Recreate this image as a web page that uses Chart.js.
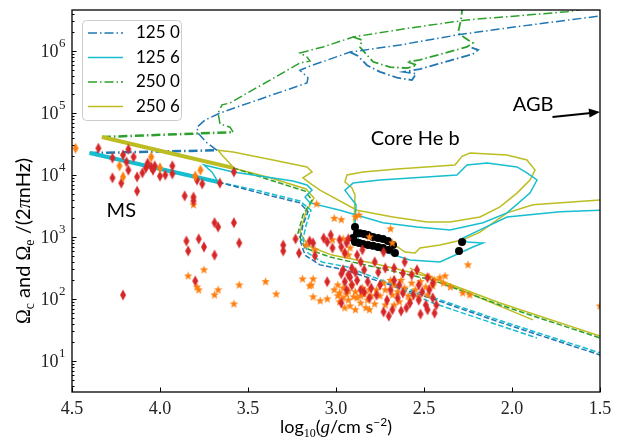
<!DOCTYPE html>
<html>
<head>
<meta charset="utf-8">
<script src="https://cdn.jsdelivr.net/npm/chart.js"></script>
<style>
  body { margin: 0; background: #fff; }
  canvas { display: block; }
</style>
</head>
<body>
<canvas id="myChart" width="617" height="441"></canvas>
<script>
// pares [log10 g, Omega (2 pi nHz)]
const ms125_0 = [[4.40, 22600], [3.68, 25000]];
const nucleo125_0 = [[3.676, 25000], [3.733, 33000], [3.784, 47500], [3.79, 59000], [3.744, 77000], [3.659, 100000], [3.165, 305000], [3.159, 370000], [3.205, 490000], [3.148, 570000], [2.92, 960000], [2.636, 1250000], [2.313, 1810000], [2.028, 2350000], [1.5, 3670000]];
const lazo125_0 = [[2.92, 960000], [2.875, 830000], [2.824, 590000], [2.75, 460000], [2.653, 370000], [2.568, 340000], [2.545, 430000], [2.614, 460000], [2.523, 510000], [2.222, 895000], [2.193, 1040000], [2.239, 1160000]];

const ms250_0 = [[4.33, 41000], [3.585, 49000]];
const nucleo250_0 = [[3.585, 49000], [3.602, 59000], [3.659, 66500], [3.67, 100000], [3.648, 135000], [3.602, 145000], [3.205, 640000], [3.148, 690000], [3.165, 800000], [3.205, 930000], [3.074, 1160000], [2.903, 1680000], [2.58, 2350000], [2.256, 3160000], [1.688, 4300000], [1.557, 4900000]];
const lazo250_0 = [[2.903, 1680000], [2.852, 1500000], [2.864, 1160000], [2.79, 670000], [2.693, 550000], [2.597, 530000], [2.54, 590000], [2.597, 670000], [2.523, 720000], [2.256, 1160000], [2.222, 1350000], [2.25, 1500000], [2.307, 1950000], [2.29, 3160000], [2.278, 6200000]];

const ms125_6 = [[4.40, 22600], [4.06, 13700], [3.67, 7700]];
const nucleo125_6 = [[3.67, 7700], [3.705, 11200], [3.75, 14500], [3.585, 11200], [3.244, 8000], [3.165, 6900], [3.136, 5700], [3.176, 4400], [3.148, 3550], [2.977, 2700], [2.733, 1700], [2.54, 1450], [2.352, 1300], [2.165, 1700], [2.028, 2450], [1.898, 5100], [1.858, 8300], [1.915, 10800], [1.972, 13500], [2.142, 15600], [2.256, 14500], [2.313, 10000], [2.75, 8300], [2.903, 7400], [2.949, 5700], [2.92, 4400], [2.886, 3300], [2.892, 1550], [2.864, 740], [2.722, 570], [2.58, 425], [2.409, 395], [2.222, 690], [2.165, 800], [2.256, 830], [2.278, 960], [2.182, 1300], [2.028, 2100], [1.727, 2550], [1.5, 2700]];

const ms250_6 = [[4.33, 41000], [3.97, 23500], [3.585, 13000]];
const nucleo250_6 = [[3.585, 13500], [3.648, 21000], [3.67, 25000], [3.585, 23500], [3.358, 17500], [3.165, 13500], [3.136, 11200], [3.188, 9000], [3.148, 7400], [3.091, 5700], [2.881, 2700], [2.676, 2100], [2.483, 1750], [2.352, 1750], [2.182, 2100], [2.068, 3050], [1.972, 5100], [1.898, 8300], [1.869, 12000], [1.915, 17500], [2.028, 21000], [2.239, 22600], [2.284, 20000], [2.324, 14500], [2.653, 12500], [2.847, 11200], [2.938, 10000], [2.949, 7700], [2.909, 6200], [2.892, 4750], [2.898, 1550], [2.875, 1080], [2.778, 900], [2.665, 740], [2.608, 570], [2.551, 550], [2.523, 665], [2.409, 740], [2.278, 900], [2.182, 1200], [2.028, 2450], [1.881, 3300], [1.5, 3950]];

// envolventes
const env125_0 = [[3.67, 7700], [3.432, 5100], [3.205, 3550], [3.159, 2550], [3.188, 1550], [3.205, 900], [3.176, 510], [3.091, 355], [2.949, 295], [2.75, 190], [2.449, 100], [2.068, 42], [1.5, 12.5]];
const env125_6 = [[3.67, 7700], [3.432, 5500], [3.205, 3800], [3.142, 2700], [3.17, 1550], [3.188, 900], [3.159, 550], [3.08, 395], [2.938, 330], [2.75, 205], [2.449, 106], [2.068, 45], [1.5, 13.5]];
const corto125 = [[2.75, 200], [2.449, 86], [1.858, 23.5]];
const env250_0 = [[3.585, 13000], [3.375, 8300], [3.176, 5500], [3.136, 3950], [3.188, 2250], [3.216, 1150], [3.176, 665], [3.034, 475], [2.807, 340], [2.449, 200], [2.068, 80], [1.5, 23.5]];
const env250_6 = [[3.585, 13000], [3.375, 9000], [3.17, 5940], [3.125, 4250], [3.17, 2550], [3.205, 1200], [3.159, 720], [3.023, 510], [2.795, 380], [2.449, 220], [2.068, 86], [1.5, 25.3]];
const corto250 = [[2.58, 315], [2.182, 104], [1.881, 46]];

const puntosNegros = [[2.892, 1450], [2.881, 1150], [2.864, 1150], [2.841, 1120], [2.818, 1080], [2.79, 1000], [2.761, 960], [2.733, 930], [2.705, 860], [2.676, 740], [2.903, 960], [2.892, 830], [2.869, 800], [2.847, 770], [2.818, 740], [2.79, 720], [2.761, 690], [2.733, 665], [2.699, 620], [2.665, 550], [2.284, 830], [2.301, 595]];

const rombosRojos = [
  [4.35, 27000], [4.27, 18800], [4.21, 21000], [4.18, 26000], [4.19, 16200], [4.15, 19500], [4.27, 9000], [4.22, 7400], [4.18, 12000], [4.13, 9300],
  [4.13, 5500], [4.10, 10800], [4.08, 13000], [4.07, 15600], [4.05, 13500], [4.04, 12000], [4.03, 14000], [4.00, 9600], [3.97, 10000], [3.93, 10400],
  [3.93, 14000], [3.79, 8300], [3.76, 7200], [3.66, 7400], [3.58, 11200], [3.86, 4600], [3.81, 4400], [3.81, 3800], [3.69, 1700], [3.67, 1450],
  [3.58, 1700], [3.55, 800], [3.85, 860], [3.84, 595], [3.78, 930], [3.75, 690], [3.69, 510], [3.80, 195], [4.21, 116], [3.30, 740],
  [3.30, 595], [3.23, 930], [3.21, 550], [3.15, 860], [3.13, 800], [3.12, 495], [3.07, 960], [3.05, 830], [3.03, 1080], [3.02, 665],
  [2.98, 900], [2.97, 690], [2.95, 550], [2.94, 800], [2.93, 930], [2.88, 510], [3.05, 190], [2.97, 255], [2.97, 86], [2.92, 225],
  [2.78, 395], [2.73, 570], [2.72, 315], [2.67, 315], [2.62, 260], [2.54, 295], [2.96, 295], [2.93, 245], [2.91, 315], [2.89, 270],
  [2.95, 190], [2.91, 168], [2.88, 200], [2.86, 140], [2.94, 140], [2.82, 190], [2.80, 150], [2.77, 116], [2.75, 168], [2.81, 104],
  [2.84, 130], [2.73, 62], [2.70, 53], [2.68, 67], [2.63, 64], [2.60, 72], [2.56, 116], [2.53, 96], [2.51, 130], [2.49, 80],
  [2.48, 67], [2.45, 104], [2.44, 59], [2.52, 57], [2.58, 86], [2.47, 140], [2.53, 168], [2.48, 220], [2.45, 180], [2.43, 80],
  [2.67, 200], [2.64, 168], [2.62, 125], [2.69, 140], [2.71, 96], [2.65, 104], [2.86, 395], [2.84, 295], [2.76, 270], [2.61, 395],
  [2.57, 245], [2.85, 620]
];
const rombosNaranja = [[4.48, 27000], [4.23, 14000], [4.21, 9300], [4.05, 19500], [4.00, 13000], [3.80, 9600], [3.77, 12000]];
const estrellas = [
  [3.81, 3300], [3.75, 295], [3.84, 235], [3.79, 156], [3.78, 140], [3.69, 116], [3.67, 140], [3.55, 168], [3.58, 83], [3.40, 190],
  [3.34, 120], [3.19, 210], [3.14, 168], [3.13, 210], [3.13, 108], [3.09, 93], [3.05, 100], [3.11, 3400], [3.01, 2000], [2.97, 1900],
  [3.17, 740], [3.12, 620], [3.02, 900], [2.96, 930], [2.95, 570], [2.92, 665], [2.93, 510], [2.89, 2100], [2.87, 2250], [2.69, 1350],
  [2.81, 1000], [2.68, 800], [2.25, 355], [1.50, 77], [2.35, 156], [2.28, 125], [2.24, 116], [3.15, 162],
  [3.01, 140], [2.99, 112], [2.98, 90], [2.96, 150], [2.94, 120], [2.93, 96], [2.92, 77], [2.91, 168], [2.89, 130], [2.88, 104],
  [2.86, 86], [2.85, 150], [2.84, 120], [2.82, 96], [2.81, 140], [2.80, 112], [2.78, 83], [2.99, 168], [2.95, 72], [2.89, 67],
  [2.83, 72], [2.77, 140], [2.98, 125], [2.90, 108], [2.86, 112], [2.93, 135], [2.96, 104],
  [2.69, 200], [2.67, 168], [2.65, 130], [2.63, 200], [2.61, 150], [2.59, 112], [2.57, 180], [2.55, 140], [2.52, 190], [2.49, 156],
  [2.47, 225], [2.44, 200], [2.41, 220], [2.38, 235], [2.58, 96], [2.64, 90], [2.68, 116], [2.72, 140], [2.53, 108], [2.48, 116],
  [2.45, 162], [2.39, 180], [2.75, 112], [2.72, 80], [2.67, 80], [2.81, 67], [2.73, 180]
];

const ticksX = [4.5, 4.0, 3.5, 3.0, 2.5, 2.0, 1.5];
const decadasY = [1, 2, 3, 4, 5, 6];
const etiquetasLeyenda = ["125 0", "125 6", "250 0", "250 6"];
// textos sobre la figura: [texto, log g, Omega]
const notas = [["MS", 4.22, 2700], ["Core He b", 2.55, 38000], ["AGB", 1.88, 135000]];
const flechaAGB = [[1.77, 86000], [1.5, 104000]];

const azul = "#1f77b4", cian = "#17becf", verde = "#2ca02c", oliva = "#bcbd22";
const rayaPunto = [9, 3, 1.5, 3];
const raya = [5.5, 2.4];
const sans = "'Lato', 'DejaVu Sans', sans-serif";
const serif = "'Liberation Serif', 'DejaVu Serif', serif";

const aPuntos = (datos) => datos.map(([x, y]) => ({ x, y }));

const linea = (datos, color, ancho, dash) => ({
  data: aPuntos(datos),
  showLine: true,
  borderColor: color,
  borderWidth: ancho,
  borderDash: dash,
  pointRadius: 0,
  fill: false,
  tension: 0,
  order: 10,
});

const hacerRombo = (color, w, h) => {
  const c = document.createElement("canvas");
  c.width = w + 2;
  c.height = h + 2;
  const g = c.getContext("2d");
  g.beginPath();
  g.moveTo(c.width / 2, 1);
  g.lineTo(c.width - 1, c.height / 2);
  g.lineTo(c.width / 2, c.height - 1);
  g.lineTo(1, c.height / 2);
  g.closePath();
  g.fillStyle = color;
  g.fill();
  return c;
};

const hacerEstrella = (color, r) => {
  const c = document.createElement("canvas");
  const s = Math.ceil(r * 2 + 2);
  c.width = s;
  c.height = s;
  const g = c.getContext("2d");
  g.translate(s / 2, s / 2);
  g.beginPath();
  for (let i = 0; i < 10; i++) {
    const rad = i % 2 === 0 ? r : r * 0.42;
    const a = -Math.PI / 2 + (i * Math.PI) / 5;
    g.lineTo(rad * Math.cos(a), rad * Math.sin(a));
  }
  g.closePath();
  g.fillStyle = color;
  g.fill();
  return c;
};

const dispersion = (datos, estilo, orden, radio) => ({
  data: aPuntos(datos),
  showLine: false,
  pointStyle: estilo,
  pointRadius: radio,
  backgroundColor: "#000",
  borderWidth: 0,
  order: orden,
});

const trazo125_0 = linea(nucleo125_0, azul, 1.5, rayaPunto);
const trazo125_6 = linea(nucleo125_6, cian, 1.5, []);
const trazo250_0 = linea(nucleo250_0, verde, 1.5, rayaPunto);
const trazo250_6 = linea(nucleo250_6, oliva, 1.5, []);
const leyenda = [trazo125_0, trazo125_6, trazo250_0, trazo250_6];

const datasets = [
  trazo125_0, trazo125_6, trazo250_0, trazo250_6,
  linea(lazo125_0, azul, 1.8, rayaPunto),
  linea(lazo250_0, verde, 1.8, rayaPunto),
  linea(env125_0, azul, 1.5, raya),
  linea(env125_6, cian, 1.5, raya),
  linea(corto125, cian, 1.5, raya),
  linea(env250_0, verde, 1.5, raya),
  linea(env250_6, oliva, 1.5, []),
  linea(corto250, oliva, 1.5, []),
  linea(ms125_6, cian, 4, []),
  linea(ms250_6, oliva, 4, []),
  linea(ms125_0, azul, 2.5, rayaPunto),
  linea(ms250_0, verde, 2.5, rayaPunto),
  dispersion(puntosNegros, "circle", 3, 4),
  dispersion(estrellas, hacerEstrella("#ff7f0e", 4.5), 2, 4),
  dispersion(rombosRojos, hacerRombo("#d62728", 6, 11), 1, 4),
  dispersion(rombosNaranja, hacerRombo("#ff7f0e", 6, 11), 0, 4),
];

const escribirTramos = (g, tramos, x, y) => {
  let total = 0;
  tramos.forEach(([t, f]) => {
    g.font = f;
    total += g.measureText(t).width;
  });
  let cx = x - total / 2;
  tramos.forEach(([t, f, dy]) => {
    g.font = f;
    g.fillText(t, cx, y + dy);
    cx += g.measureText(t).width;
  });
};

const decorado = {
  id: "decorado",
  afterDraw(chart) {
    const { ctx: g, chartArea: a } = chart;
    const { x, y } = chart.scales;
    g.save();
    g.fillStyle = "#000";
    g.strokeStyle = "#000";

    // ticks hacia dentro
    g.lineWidth = 1;
    g.beginPath();
    ticksX.forEach((v) => {
      const px = Math.round(x.getPixelForValue(v)) + 0.5;
      g.moveTo(px, a.bottom);
      g.lineTo(px, a.bottom - 4.5);
    });
    for (let d = 0; d <= 6; d++) {
      for (let m = 1; m <= 9; m++) {
        const v = m * 10 ** d;
        if (v < y.min || v > y.max) continue;
        const py = Math.round(y.getPixelForValue(v)) + 0.5;
        g.moveTo(a.left, py);
        g.lineTo(a.left + (m === 1 ? 4.5 : 2.5), py);
      }
    }
    g.stroke();

    // marco
    g.lineWidth = 1.3;
    g.strokeRect(a.left, a.top, a.right - a.left, a.bottom - a.top);

    // etiquetas de los ejes
    g.fillStyle = "#222";
    g.textAlign = "center";
    g.textBaseline = "top";
    g.font = "18px " + serif;
    ticksX.forEach((v) => {
      g.fillText(v.toFixed(1), x.getPixelForValue(v), a.bottom + 8);
    });
    g.textAlign = "left";
    g.textBaseline = "middle";
    decadasY.forEach((d) => {
      const py = y.getPixelForValue(10 ** d);
      g.font = "18px " + serif;
      const w1 = g.measureText("10").width;
      g.font = "13px " + serif;
      const w2 = g.measureText(String(d)).width;
      const x0 = a.left - 7 - w1 - w2;
      g.font = "18px " + serif;
      g.fillText("10", x0, py + 1);
      g.font = "13px " + serif;
      g.fillText(String(d), x0 + w1 + 0.5, py - 7);
    });

    // titulos
    g.fillStyle = "#000";
    g.textBaseline = "alphabetic";
    escribirTramos(g, [
      ["log", "18px " + sans, 0],
      ["10", "12px " + serif, 4],
      ["(", "18px " + sans, 0],
      ["g", "italic 19px " + serif, 0],
      ["/cm s", "18px " + sans, 0],
      ["\u22122", "12px " + sans, -7],
      [")", "18px " + sans, 0],
    ], (a.left + a.right) / 2, 433);

    g.save();
    g.translate(23, 241);
    g.rotate(-Math.PI / 2);
    escribirTramos(g, [
      ["\u03a9", "20px " + serif, 0],
      ["c", "14px " + serif, 4],
      [" and ", "20px " + sans, 0],
      ["\u03a9", "20px " + serif, 0],
      ["e", "14px " + serif, 4],
      [" /(2", "20px " + sans, 0],
      ["\u03c0", "italic 20px " + serif, 0],
      ["nHz)", "20px " + sans, 0],
    ], 0, 7);
    g.restore();

    // anotaciones
    g.textAlign = "center";
    g.textBaseline = "middle";
    g.font = "20px " + sans;
    notas.forEach(([t, lx, ly]) => {
      g.fillText(t, x.getPixelForValue(lx), y.getPixelForValue(ly));
    });
    const x1 = x.getPixelForValue(flechaAGB[0][0]);
    const y1 = y.getPixelForValue(flechaAGB[0][1]);
    const x2 = x.getPixelForValue(flechaAGB[1][0]);
    const y2 = y.getPixelForValue(flechaAGB[1][1]);
    const ang = Math.atan2(y2 - y1, x2 - x1);
    g.lineWidth = 2;
    g.beginPath();
    g.moveTo(x1, y1);
    g.lineTo(x2 - 9 * Math.cos(ang), y2 - 9 * Math.sin(ang));
    g.stroke();
    g.beginPath();
    g.moveTo(x2, y2);
    g.lineTo(x2 - 11 * Math.cos(ang) + 4.5 * Math.sin(ang), y2 - 11 * Math.sin(ang) - 4.5 * Math.cos(ang));
    g.lineTo(x2 - 11 * Math.cos(ang) - 4.5 * Math.sin(ang), y2 - 11 * Math.sin(ang) + 4.5 * Math.cos(ang));
    g.closePath();
    g.fill();

    // leyenda
    const lx = a.left + 10, ly = a.top + 10, lw = 99, lh = 100;
    g.beginPath();
    g.roundRect(lx + 0.5, ly + 0.5, lw, lh, 4);
    g.fillStyle = "rgba(255,255,255,0.85)";
    g.fill();
    g.strokeStyle = "#cccccc";
    g.lineWidth = 1;
    g.stroke();
    g.textAlign = "left";
    g.textBaseline = "middle";
    g.font = "17px " + sans;
    leyenda.forEach((ds, i) => {
      const fy = ly + 13 + i * 24.5;
      g.strokeStyle = ds.borderColor;
      g.lineWidth = 1.5;
      g.setLineDash(ds.borderDash);
      g.beginPath();
      g.moveTo(lx + 6, fy);
      g.lineTo(lx + 41, fy);
      g.stroke();
      g.setLineDash([]);
      g.fillStyle = "#000";
      g.fillText(etiquetasLeyenda[i], lx + 54, fy);
    });
    g.restore();
  },
};

const pintarGrafica = () => {
  new Chart(document.getElementById("myChart"), {
    type: "scatter",
    data: { datasets },
    options: {
      responsive: false,
      animation: false,
      devicePixelRatio: 1,
      layout: { padding: { top: 10, right: 17, left: 0, bottom: 0 } },
      plugins: { legend: { display: false }, tooltip: { enabled: false } },
      scales: {
        x: {
          type: "linear",
          min: 1.5,
          max: 4.5,
          reverse: true,
          grid: { display: false },
          border: { display: false },
          ticks: { display: false },
          afterFit: (escala) => { escala.height = 49; },
        },
        y: {
          type: "logarithmic",
          min: 3.16,
          max: 4.58e6,
          grid: { display: false },
          border: { display: false },
          ticks: { display: false },
          afterFit: (escala) => { escala.width = 72; },
        },
      },
    },
    plugins: [decorado],
  });
};

pintarGrafica();
</script>
</body>
</html>
